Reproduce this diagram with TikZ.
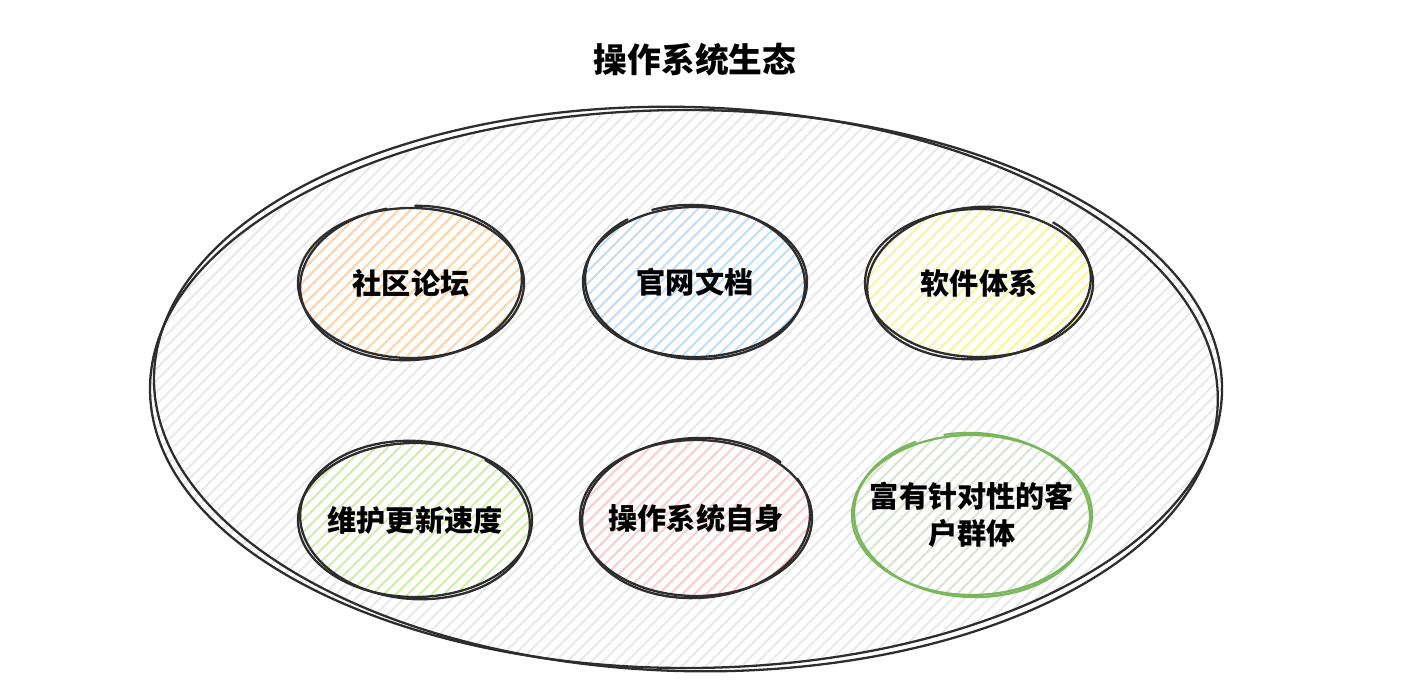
\documentclass[tikz,border=0pt]{standalone}
\usepackage{fontspec}
\setmainfont{Noto Sans CJK SC}
\usetikzlibrary{patterns.meta}
\definecolor{ink}{RGB}{45,45,45}
\definecolor{paper}{RGB}{232,232,232}
\definecolor{orangeh}{RGB}{255,212,168}
\definecolor{blueh}{RGB}{196,222,250}
\definecolor{yellowh}{RGB}{248,248,150}
\definecolor{limeh}{RGB}{210,238,170}
\definecolor{pinkh}{RGB}{255,205,205}
\definecolor{mossh}{RGB}{218,230,212}
\definecolor{moss}{RGB}{122,182,92}
\tikzset{
  every picture/.style={line cap=round, line join=round},
  % Schraffur im Skizzenstil
  hatch/.style={pattern={Lines[angle=45,distance=2.4pt,line width=0.55pt]}, pattern color=#1},
  hatch/.default=paper,
  sketch/.style={draw=#1, line width=0.65pt},
  sketch/.default=ink,
  lbl/.style={align=center, font=\bfseries\fontsize{8.3}{10.5}\selectfont},
  title/.style={font=\bfseries\fontsize{9.6}{11}\selectfont},
}
\begin{document}
\begin{tikzpicture}
  \useasboundingbox (0,0) rectangle (14.07,6.92);
  % Umriss des Oekosystems
  \coordinate (eco) at (6.86,3.03);
  \fill[hatch] (eco) ellipse[x radius=5.36, y radius=2.79];
  \draw[sketch] (eco) ellipse[x radius=5.36, y radius=2.79];
  \draw[sketch, rotate around={-1.5:(eco)}] (eco) ++(80:5.32 and 2.82)
    arc[start angle=80, end angle=445, x radius=5.32, y radius=2.82];
  \node[title] (head) at (6.95,6.32) {操作系统生态};
  % Blasen: x/y/Farbe/Drehung/Start/rx/ry/Strich
  \foreach \x/\y/\c/\a/\s/\rx/\ry/\k in {
      4.11/4.09/orangeh/4/100/1.13/0.75/ink, 6.95/4.10/blueh/-3/130/1.12/0.75/ink,
      9.79/4.09/yellowh/5/60/1.14/0.74/ink, 4.15/1.72/limeh/-4/70/1.17/0.77/ink,
      6.96/1.74/pinkh/3/40/1.16/0.78/ink, 9.72/1.77/mossh/-2/120/1.2/0.8/moss} {
    \fill[hatch=\c] (\x,\y) ellipse[x radius=\rx, y radius=\ry];
    \draw[sketch=\k] (\x,\y) ellipse[x radius=\rx, y radius=\ry];
    \draw[sketch=\k, rotate around={\a:(\x,\y)}] (\x,\y) ++(\s:\rx-0.02 and \ry+0.02)
      arc[start angle=\s, end angle=\s+345, x radius=\rx-0.02, y radius=\ry+0.02];
  }
  % Beschriftungen
  \node[lbl] (forum) at (4.11,4.09) {社区论坛};
  \node[lbl] (docs) at (6.95,4.10) {官网文档};
  \node[lbl] (soft) at (9.79,4.09) {软件体系};
  \node[lbl] (speed) at (4.15,1.72) {维护更新速度};
  \node[lbl] (core) at (6.96,1.74) {操作系统自身};
  \node[lbl] (users) at (9.72,1.77) {富有针对性的客\\户群体};
\end{tikzpicture}
\end{document}
